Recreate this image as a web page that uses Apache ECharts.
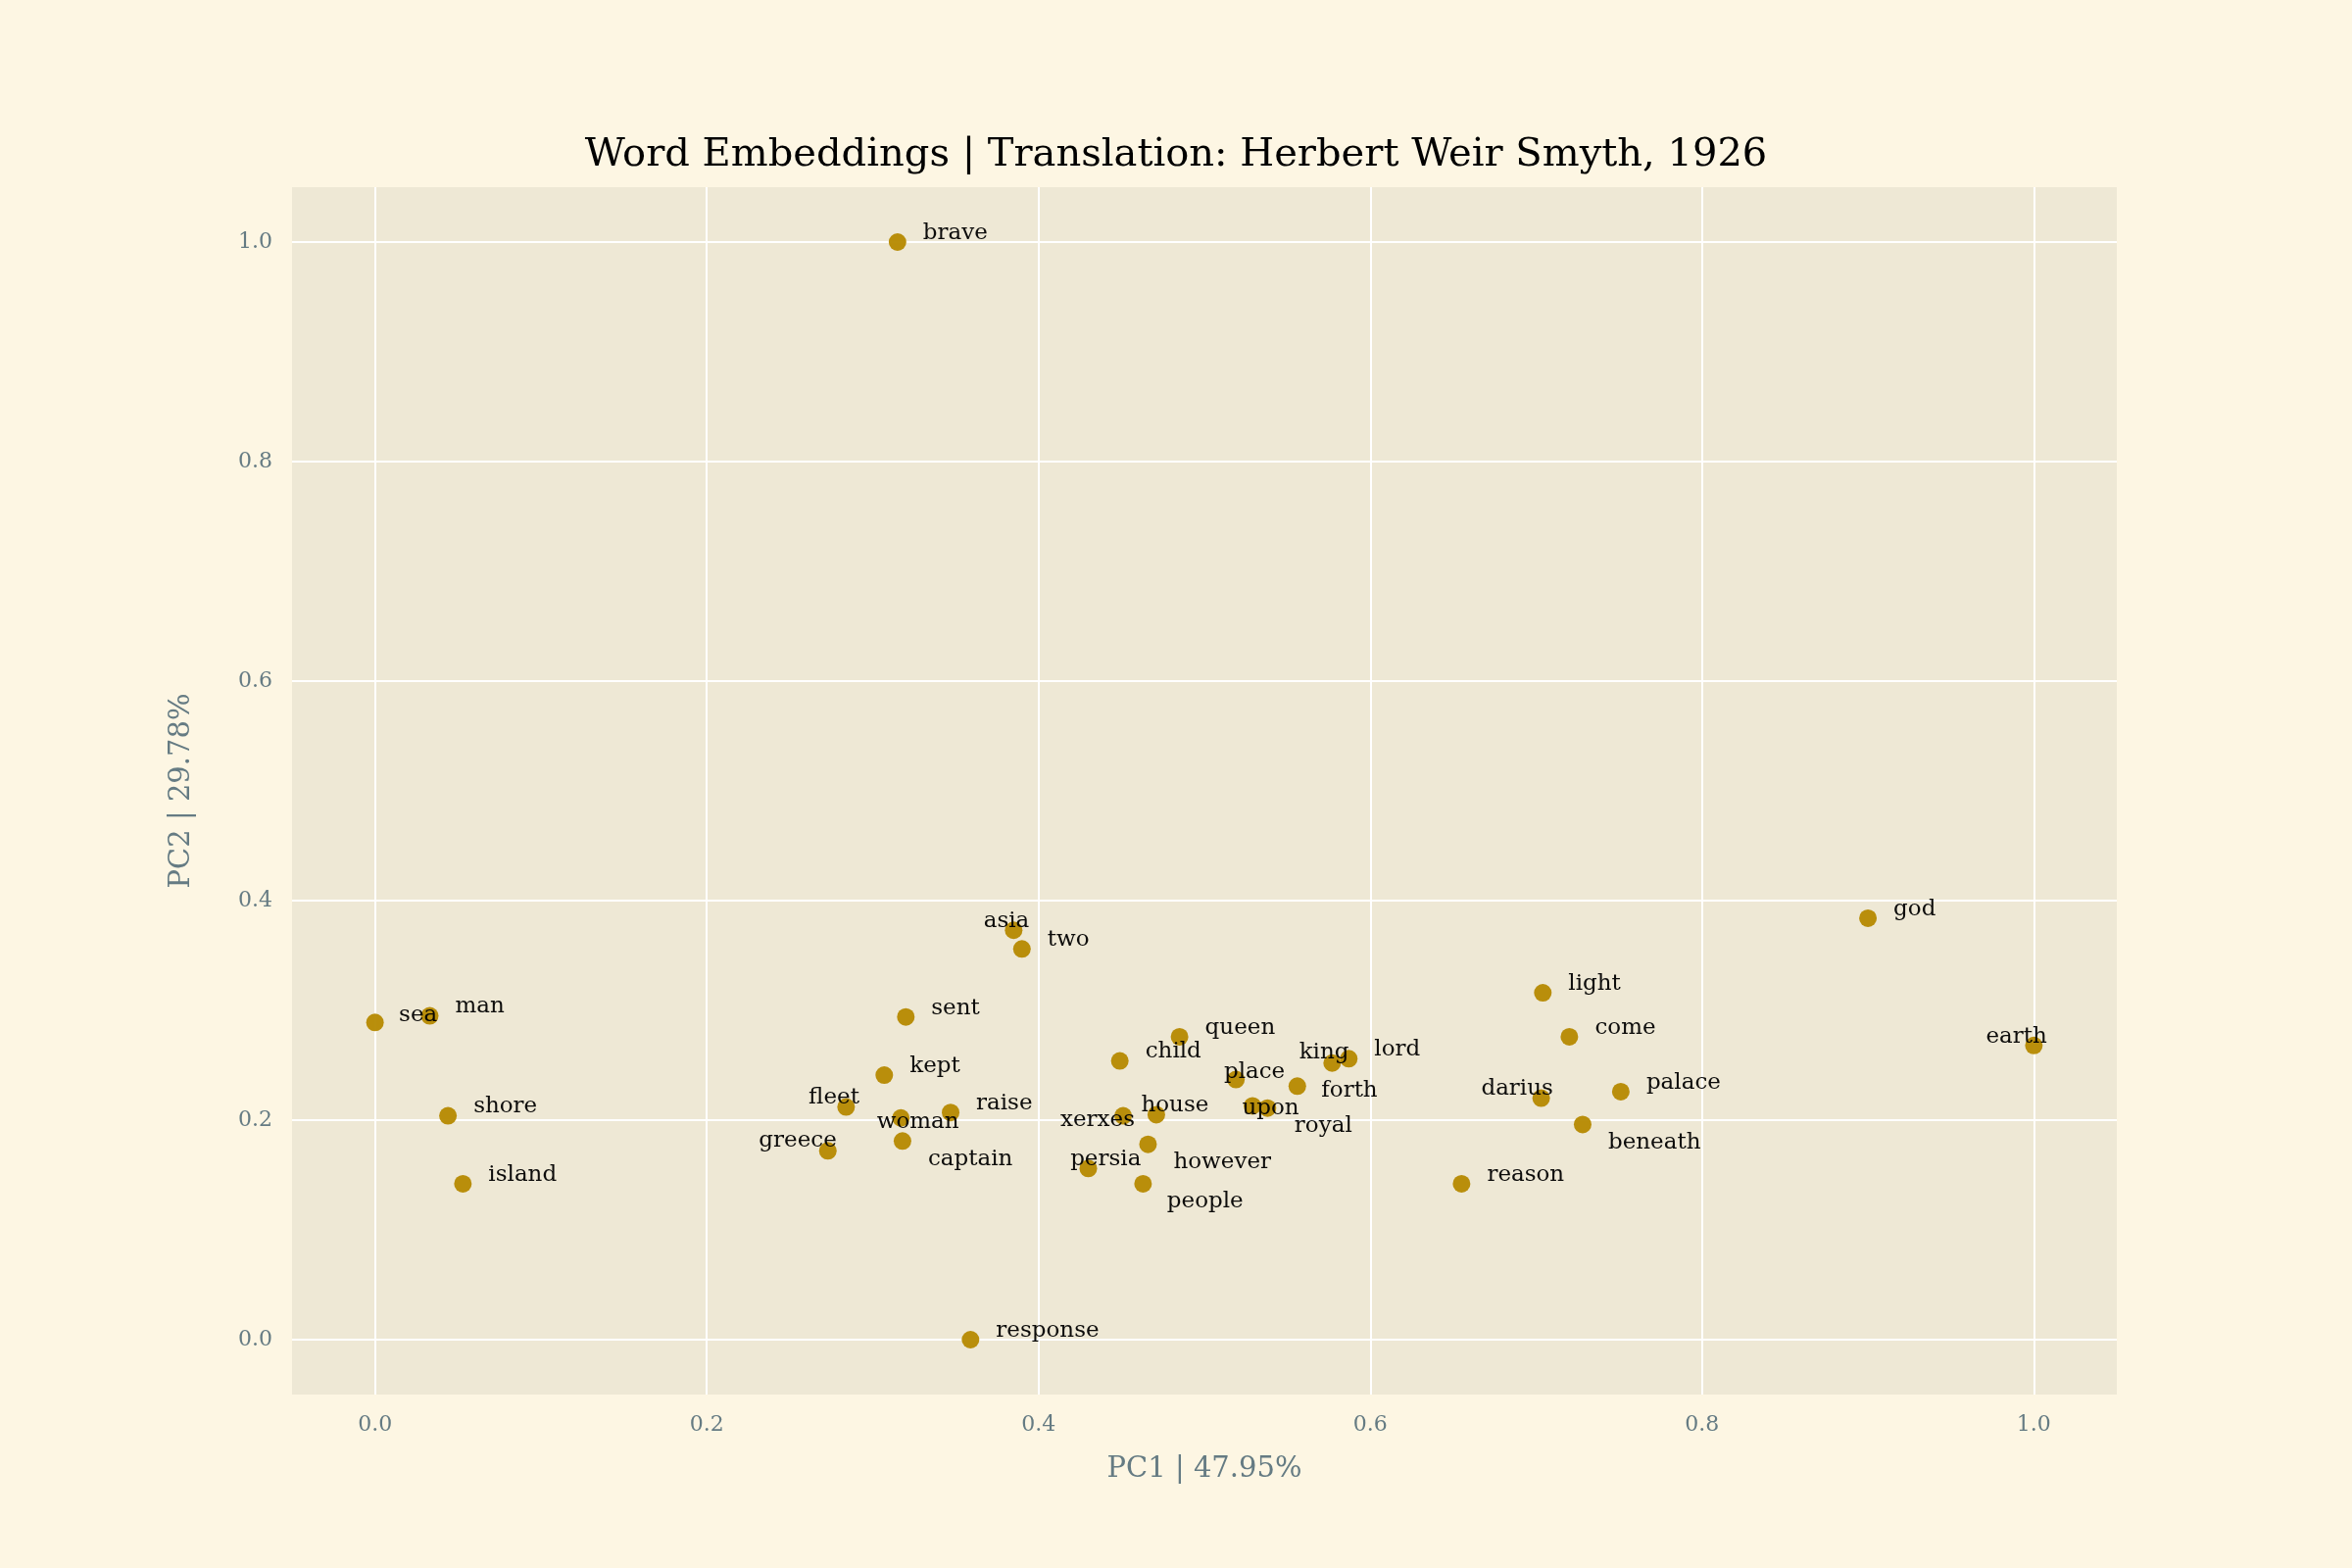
<!DOCTYPE html>
<html>
<head>
<meta charset="utf-8">
<script src="https://cdn.jsdelivr.net/npm/echarts@6/dist/echarts.min.js"></script>
<style>html,body{margin:0;padding:0;background:#fdf6e3}#chart{width:2400px;height:1600px}</style>
</head>
<body>
<div id="chart"></div>
<script>
// 词向量数据
var words = ['brave','asia','two','sea','man','sent','kept','fleet','woman','raise','captain','greece','shore','island','response',
  'queen','child','house','xerxes','persia','however','people','place','upon','royal','forth','king','lord',
  'reason','darius','light','come','beneath','palace','god','earth'];
var pc1 = [0.315,0.385,0.390,0.000,0.033,0.320,0.307,0.284,0.317,0.347,0.318,0.273,0.044,0.053,0.359,
  0.485,0.449,0.451,0.471,0.430,0.466,0.463,0.519,0.529,0.538,0.556,0.577,0.587,
  0.655,0.703,0.704,0.720,0.728,0.751,0.900,1.000];
var pc2 = [1.000,0.373,0.356,0.289,0.295,0.294,0.241,0.212,0.202,0.207,0.181,0.172,0.204,0.142,0.000,
  0.276,0.254,0.204,0.205,0.156,0.178,0.142,0.237,0.213,0.211,0.231,0.252,0.256,
  0.142,0.220,0.316,0.276,0.196,0.226,0.384,0.268];
var xTicks = [0, 0.2, 0.4, 0.6, 0.8, 1.0];
var yTicks = [0, 0.2, 0.4, 0.6, 0.8, 1.0];

// 标签偏移（原图像素，按比例放大）
var labelOffsets = {
  asia:[-20,-6], fleet:[-25,-6], woman:[-16,3], greece:[-46,-7], captain:[17,12],
  xerxes:[-64,4], house:[12,-7], persia:[-12,-6], however:[17,12], people:[16,12],
  place:[-8,-5], upon:[-7,2], royal:[18,12], forth:[16,3], king:[-22,-7],
  darius:[-40,-6], beneath:[17,12], earth:[-32,-6], sea:[16,-5]
};
var k = 1.53;
var symSize = 18;

var data = words.map(function (w, i) {
  var off = labelOffsets[w] || [17,-6];
  return {
    name: w,
    value: [pc1[i], pc2[i]],
    label: {position: [symSize / 2 + off[0] * k, symSize / 2 + off[1] * k]}
  };
});

var font = 'DejaVu Serif';
var gridStyle = {color: '#fff', width: 2, type: 'solid'};
var chart = echarts.init(document.getElementById('chart'));
chart.setOption({
  backgroundColor: '#fdf6e3',
  animation: false,
  title: {
    text: 'Word Embeddings | Translation: Herbert Weir Smyth, 1926',
    left: 'center', top: 134,
    textStyle: {fontFamily: font, fontSize: 40, fontWeight: 'normal', color: '#000'}
  },
  grid: {left: 298, right: 240, top: 191, bottom: 177, show: true, backgroundColor: '#eee8d5', borderWidth: 0},
  xAxis: {
    type: 'value', min: -0.05, max: 1.05,
    name: 'PC1 | 47.95%', nameLocation: 'middle', nameGap: 62,
    nameTextStyle: {fontFamily: font, fontSize: 29, color: '#657b83'},
    axisLine: {show: false}, axisTick: {show: false},
    splitLine: {show: false},
    axisLabel: {
      fontFamily: font, fontSize: 22, color: '#657b83', margin: 20,
      customValues: xTicks, formatter: function (v) { return v.toFixed(1); }
    }
  },
  yAxis: {
    type: 'value', min: -0.05, max: 1.05,
    name: 'PC2 | 29.78%', nameLocation: 'middle', nameGap: 98,
    nameTextStyle: {fontFamily: font, fontSize: 29, color: '#657b83'},
    axisLine: {show: false}, axisTick: {show: false},
    splitLine: {show: false},
    axisLabel: {
      fontFamily: font, fontSize: 22, color: '#657b83', margin: 20,
      customValues: yTicks, formatter: function (v) { return v.toFixed(1); }
    }
  },
  series: [{
    type: 'scatter',
    symbolSize: symSize,
    itemStyle: {color: '#b58900', opacity: 0.95},
    label: {
      show: true, align: 'left', verticalAlign: 'middle',
      formatter: '{b}', fontFamily: font, fontSize: 23, color: '#000'
    },
    labelLayout: {hideOverlap: false},
    markLine: {
      silent: true, symbol: 'none', z: 1,
      lineStyle: gridStyle,
      label: {show: false},
      data: xTicks.map(function (v) { return {xAxis: v}; })
        .concat(yTicks.map(function (v) { return {yAxis: v}; }))
    },
    data: data
  }]
});
</script>
</body>
</html>
